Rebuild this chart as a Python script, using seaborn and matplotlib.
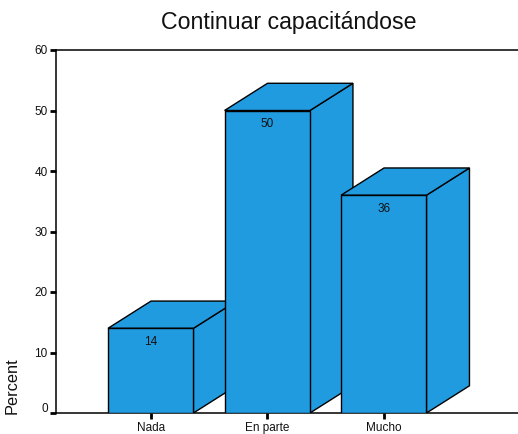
import matplotlib

matplotlib.use('Agg')

import matplotlib.pyplot as plt
from matplotlib.transforms import ScaledTranslation
import pandas as pd
import seaborn as sns

categories = ['Nada', 'En parte', 'Mucho']
percent = [14, 50, 36]
y_ticks = [0, 10, 20, 30, 40, 50, 60]

BLUE = '#209be0'
DEPTH_X = 0.369
DEPTH_Y = 4.5

sns.set_style('white')
plt.rcParams['font.family'] = ['Liberation Sans', 'DejaVu Sans']

df = pd.DataFrame({'cat': categories, 'pct': percent})

fig = plt.figure(figsize=(5.18, 4.34), dpi=100)
ax = fig.add_axes([56 / 518, 1 - 413 / 434, 462 / 518, 363 / 434])

sns.barplot(data=df, x='cat', y='pct', color=BLUE, saturation=1, width=0.733,
            edgecolor='black', linewidth=1.0, ax=ax)

# 3d look: side and top faces per bar, later bars sit in front
for i, bar in enumerate(ax.patches):
    x0 = bar.get_x()
    x1 = x0 + bar.get_width()
    h = bar.get_height()
    bar.set_zorder(3 + i * 2 + 1)
    ax.fill([x1, x1 + DEPTH_X, x1 + DEPTH_X, x1], [0, DEPTH_Y, h + DEPTH_Y, h],
            facecolor=BLUE, edgecolor='black', linewidth=1.0, zorder=3 + i * 2)
    ax.fill([x0, x0 + DEPTH_X, x1 + DEPTH_X, x1], [h, h + DEPTH_Y, h + DEPTH_Y, h],
            facecolor=BLUE, edgecolor='black', linewidth=1.0, zorder=3 + i * 2)
    ax.text(bar.get_x() + bar.get_width() / 2, h - 2.25, str(percent[i]), ha='center', va='center',
            fontsize=8.5, color='#111111', zorder=20)

ax.set_xlim(-0.813, 3.152)
ax.set_ylim(0, 60)
ax.set_yticks(y_ticks)
ax.set_xlabel('')
ax.set_ylabel('')

ax.tick_params(axis='both', direction='out', length=4, width=2, color='black',
               labelsize=8.5, labelcolor='#111111', left=True, bottom=True, pad=2)
ax.tick_params(axis='x', pad=2.5)

# the zero label sits a bit above its tick
for lab in ax.get_yticklabels():
    lab.set_transform(lab.get_transform() + ScaledTranslation(0, 4 / 72, fig.dpi_scale_trans))
    break

for side in ['left', 'top', 'bottom']:
    ax.spines[side].set_visible(True)
    ax.spines[side].set_color('black')
    ax.spines[side].set_linewidth(1.1)
ax.spines['right'].set_visible(False)

fig.text(289 / 518, 1 - 23 / 434, 'Continuar capacitándose', ha='center', va='center', fontsize=16.7, color='#111111')
fig.text(12.5 / 518, 1 - 414 / 434, 'Percent', rotation=90, ha='center', va='bottom', fontsize=11.8, color='#111111')

fig.savefig('out.png', dpi=100)
